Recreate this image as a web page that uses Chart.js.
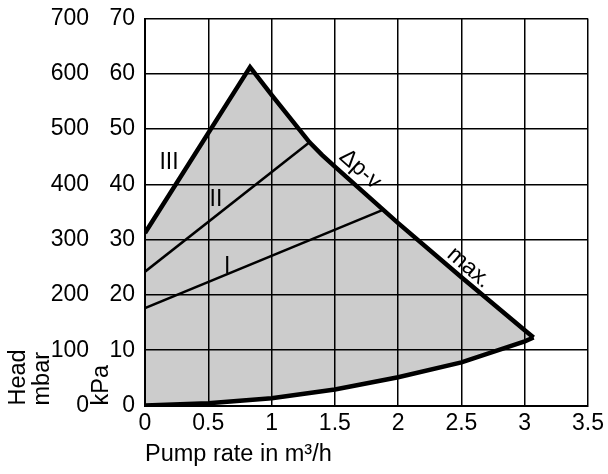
<!DOCTYPE html>
<html>
<head>
<meta charset="utf-8">
<script src="https://cdn.jsdelivr.net/npm/chart.js@4/dist/chart.umd.min.js"></script>
<style>
  body { margin: 0; background: #fff; }
  #wrap { width: 608px; height: 474px; }
</style>
</head>
<body>
<div id="wrap"><canvas id="pumpChart"></canvas></div>
<script>
// --- data (flow in m³/h, head in kPa) ---
const xTickLabels = ['0', '0.5', '1', '1.5', '2', '2.5', '3', '3.5'];
const kpaTickLabels = ['0', '10', '20', '30', '40', '50', '60', '70'];
const mbarTickLabels = ['0', '100', '200', '300', '400', '500', '600', '700'];

// curve III up to the peak, then the max. / Δp-v curve down to the end point
const upperFlow = [0, 0.83, 1.0, 1.3, 1.4, 1.5, 2.0, 2.5, 3.0, 3.07];
const upperHead = [31.2, 61.2, 56.2, 47.6, 45.3, 43.2, 33.0, 23.2, 13.6, 12.3];

// curve II and curve I
const curve2Flow = [0, 1.3];
const curve2Head = [24.2, 47.6];
const curve1Flow = [0, 1.88];
const curve1Head = [17.6, 35.4];

// system curve along the bottom
const lowerFlow = [0, 0.5, 1.0, 1.5, 2.0, 2.5, 3.0, 3.07];
const lowerHead = [0, 0.4, 1.3, 2.9, 5.1, 7.8, 11.6, 12.3];

// curve names and where they sit (data coords)
const curveNames = ['III', 'II', 'I', 'Δp-v', 'max.'];
const nameFlow = [0.19, 0.56, 0.65, 1.70, 2.56];
const nameHead = [43.9, 37.2, 25.1, 42.7, 24.9];
const nameAngle = [0, 0, 0, 42, 41];

const pts = (xs, ys) => xs.map((x, i) => ({ x: x, y: ys[i] }));

const upperPts = pts(upperFlow, upperHead);
const lowerPts = pts(lowerFlow, lowerHead);
// closed outline of the operating range for the grey area
const areaPts = [...lowerPts.slice(0, 1), ...upperPts, ...lowerPts.slice().reverse()];

const FONT = "'Liberation Sans', Arial, sans-serif";
Chart.defaults.font.family = FONT;
Chart.defaults.font.size = 23;
Chart.defaults.color = '#000';

// --- curve labels ---
const curveNamePlugin = {
  id: 'curveNames',
  afterDatasetsDraw(chart) {
    const { ctx, scales } = chart;
    ctx.save();
    ctx.font = '23px ' + FONT;
    ctx.fillStyle = '#000';
    ctx.textAlign = 'center';
    ctx.textBaseline = 'middle';
    curveNames.forEach((name, i) => {
      const px = scales.x.getPixelForValue(nameFlow[i]);
      const py = scales.y.getPixelForValue(nameHead[i]);
      ctx.save();
      ctx.translate(px, py);
      ctx.rotate(nameAngle[i] * Math.PI / 180);
      ctx.fillText(name, 0, 0);
      ctx.restore();
    });
    ctx.restore();
  }
};

const lineBase = { pointRadius: 0, pointHoverRadius: 0, tension: 0, fill: false, borderColor: '#000' };

// fixed axis sizes, no extra room for label overhang
const fixY = w => s => { s.width = w; s.paddingTop = 0; s.paddingBottom = 0; };

new Chart(document.getElementById('pumpChart'), {
  type: 'line',
  data: {
    datasets: [
      {
        ...lineBase,
        data: areaPts,
        borderWidth: 0,
        backgroundColor: 'rgba(0,0,0,0.2)',
        fill: 'shape'
      },
      { ...lineBase, data: pts(curve2Flow, curve2Head), borderWidth: 2.5 },
      { ...lineBase, data: pts(curve1Flow, curve1Head), borderWidth: 2.5 },
      { ...lineBase, data: lowerPts, borderWidth: 4.5 },
      { ...lineBase, data: upperPts, borderWidth: 4.5, borderJoinStyle: 'miter' }
    ]
  },
  options: {
    responsive: true,
    maintainAspectRatio: false,
    animation: false,
    events: [],
    layout: { padding: { top: 18.5, right: 20, left: 0, bottom: 0 } },
    plugins: {
      legend: { display: false },
      tooltip: { enabled: false }
    },
    scales: {
      x: {
        type: 'linear',
        min: 0,
        max: 3.5,
        afterFit: s => { s.height = 68.5; s.paddingLeft = 0; s.paddingRight = 0; },
        grid: { color: '#000', lineWidth: 1.5, drawTicks: false },
        border: { color: '#000', width: 2 },
        ticks: {
          stepSize: 0.5,
          padding: 4,
          maxRotation: 0,
          callback: (v, i) => xTickLabels[i]
        },
        title: {
          display: true,
          text: 'Pump rate in m³/h',
          align: 'start',
          font: { size: 23.5, lineHeight: 1 },
          padding: { top: 0, bottom: 8 }
        }
      },
      y: {
        position: 'left',
        weight: 0,
        min: 0,
        max: 70,
        afterFit: fixY(56),
        grid: { color: '#000', lineWidth: 1.5, drawTicks: false },
        border: { color: '#000', width: 2 },
        ticks: { stepSize: 10, padding: 10, callback: (v, i) => kpaTickLabels[i] },
        title: {
          display: true,
          text: 'kPa',
          align: 'start',
          font: { size: 23.5, lineHeight: 1 },
          padding: { top: 0.75, bottom: 0 }
        }
      },
      y2: {
        position: 'left',
        weight: 1,
        min: 0,
        max: 700,
        afterFit: fixY(89),
        grid: { display: false, drawTicks: false },
        border: { display: false },
        ticks: { stepSize: 100, padding: 0, callback: (v, i) => mbarTickLabels[i] },
        title: {
          display: true,
          text: ['Head', 'mbar'],
          align: 'start',
          font: { size: 23.5, lineHeight: 1 },
          padding: { top: 7, bottom: 0 }
        }
      }
    }
  },
  plugins: [curveNamePlugin]
});
</script>
</body>
</html>
